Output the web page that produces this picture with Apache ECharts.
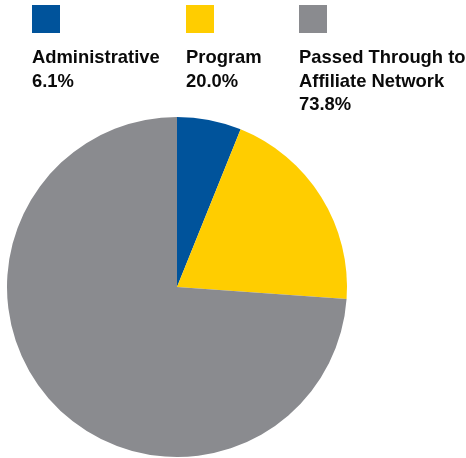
<!DOCTYPE html>
<html>
<head>
<meta charset="utf-8">
<script src="https://cdn.jsdelivr.net/npm/echarts@6/dist/echarts.min.js"></script>
<style>
html,body{margin:0;padding:0;background:#fff;}
#c{width:466px;height:458px;}
</style>
</head>
<body>
<div id="c"></div>
<script>
const categories = ['Administrative', 'Program', 'Passed Through to\nAffiliate Network'];
const values = [6.1, 20.0, 73.8];
const labels = ['6.1%', '20.0%', '73.8%'];
const colors = ['#00539b', '#ffcd00', '#8a8b8f'];

const legendX = [32, 186, 299];
const graphic = [];
categories.forEach((c, i) => {
  graphic.push({
    type: 'rect', left: legendX[i], top: 5,
    shape: { width: 28, height: 28 },
    style: { fill: colors[i] }, silent: true
  });
  graphic.push({
    type: 'text', left: legendX[i], top: 46,
    style: {
      text: c + '\n' + labels[i],
      font: 'bold 18.4px "Liberation Sans", Arial, sans-serif',
      fill: '#0a0a0a',
      lineHeight: 23.7
    }, silent: true
  });
});

const chart = echarts.init(document.getElementById('c'), null, { renderer: 'canvas' });
chart.setOption({
  animation: false,
  color: colors,
  graphic: graphic,
  series: [{
    type: 'pie',
    center: [177, 287],
    radius: 170,
    startAngle: 90,
    clockwise: true,
    label: { show: false },
    labelLine: { show: false },
    emphasis: { disabled: true },
    itemStyle: { borderWidth: 0 },
    data: categories.map((c, i) => ({ name: c, value: values[i] }))
  }]
});
</script>
</body>
</html>
